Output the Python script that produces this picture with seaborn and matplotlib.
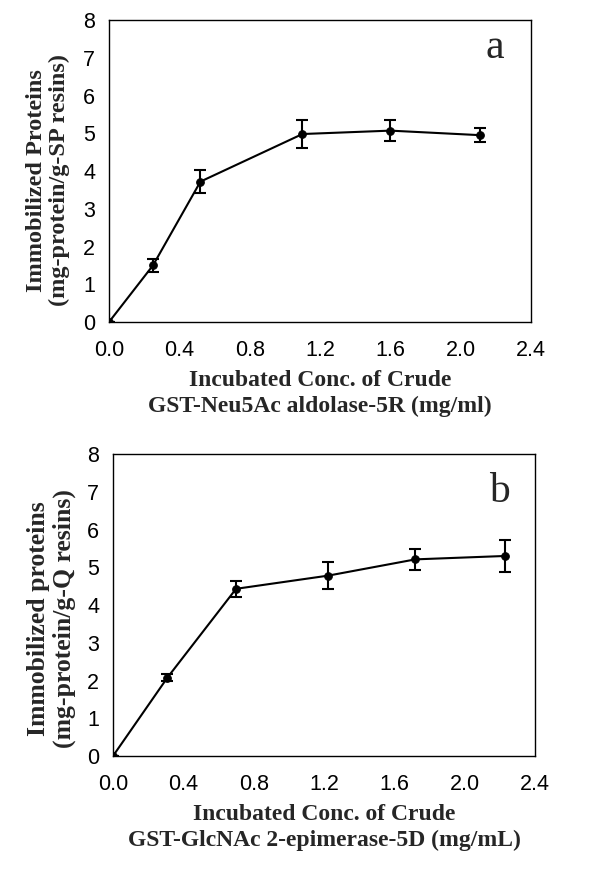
import matplotlib
matplotlib.use("Agg")
import matplotlib.pyplot as plt
import seaborn as sns
import pandas as pd

# Panel a
xa = [0.0, 0.25, 0.52, 1.10, 1.60, 2.11]
ya = [0.0, 1.50, 3.72, 4.98, 5.07, 4.95]
ea = [0.0, 0.18, 0.31, 0.36, 0.27, 0.19]
# Panel b
xb = [0.0, 0.31, 0.70, 1.225, 1.72, 2.23]
yb = [0.0, 2.08, 4.43, 4.78, 5.21, 5.30]
eb = [0.0, 0.10, 0.22, 0.36, 0.27, 0.42]

xticks = [0.0, 0.4, 0.8, 1.2, 1.6, 2.0, 2.4]
xtick_labels = ["0.0", "0.4", "0.8", "1.2", "1.6", "2.0", "2.4"]
yticks = [0, 1, 2, 3, 4, 5, 6, 7, 8]

panels = [
    dict(x=xa, y=ya, e=ea, letter="a",
         ylabel="Immobilized Proteins\n(mg-protein/g-SP resins)",
         xlabel="Incubated Conc. of Crude\nGST-Neu5Ac aldolase-5R (mg/ml)",
         rect=[0.1817, 0.6303, 0.7033, 0.3467], letter_y=0.874,
         ylab_size=17.5, ylab_xy=(-0.092, 0.47)),
    dict(x=xb, y=yb, e=eb, letter="b",
         ylabel="Immobilized proteins\n(mg-protein/g-Q resins)",
         xlabel="Incubated Conc. of Crude\nGST-GlcNAc 2-epimerase-5D (mg/mL)",
         rect=[0.1883, 0.1320, 0.7033, 0.3467], letter_y=0.841,
         ylab_size=18.5, ylab_xy=(-0.088, 0.456)),
]

sns.set_style("white")
plt.rcParams['font.family'] = ['Liberation Sans', 'DejaVu Sans']

fig = plt.figure(figsize=(6.0, 8.71), dpi=100)
serif = ['Liberation Serif', 'DejaVu Serif']

for p in panels:
    ax = fig.add_axes(p["rect"])
    df = pd.DataFrame({"x": p["x"], "y": p["y"]})
    sns.lineplot(data=df, x="x", y="y", ax=ax, color="black", linewidth=1.5,
                 marker="o", markersize=5.5, markeredgecolor="black", sort=False)
    ax.errorbar(p["x"], p["y"], yerr=p["e"], fmt="none", ecolor="black",
                elinewidth=1.5, capsize=4, capthick=1.5)
    ax.set_xlim(0, 2.4)
    ax.set_ylim(0, 8)
    ax.set_xticks(xticks)
    ax.set_xticklabels(xtick_labels)
    ax.set_yticks(yticks)
    ax.tick_params(axis="both", direction="out", length=4, width=1,
                   labelsize=15.5, pad=6, colors="black")
    ax.tick_params(axis="x", pad=9)
    for s in ax.spines.values():
        s.set_color("black")
        s.set_linewidth(1.0)
    ax.set_xlabel(p["xlabel"], family=serif, fontweight="bold", fontsize=17,
                  linespacing=1.3)
    ax.xaxis.set_label_coords(0.5, -0.158)
    ax.set_ylabel(p["ylabel"], family=serif, fontweight="bold",
                  fontsize=p["ylab_size"], linespacing=1.15)
    ax.yaxis.set_label_coords(*p["ylab_xy"])
    ax.text(0.915, p["letter_y"], p["letter"], transform=ax.transAxes, family=serif,
            fontsize=30, ha="center", va="baseline")

fig.savefig("out.png", dpi=100)
